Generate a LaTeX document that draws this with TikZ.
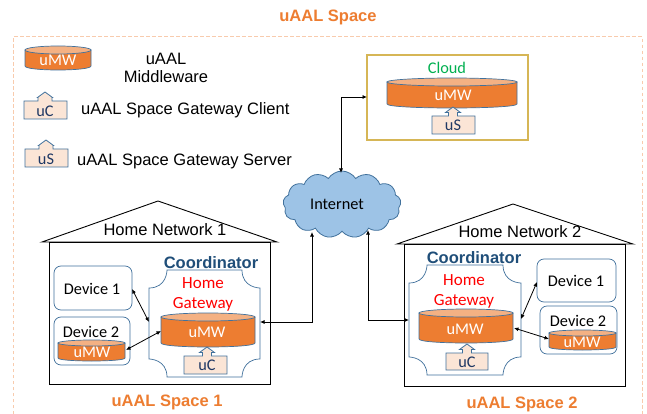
\documentclass[tikz,border=0pt]{standalone}
\usepackage{fontspec}
\setmainfont{Liberation Sans}
\newfontfamily\carlitofont{Carlito}
\usetikzlibrary{shapes.symbols,arrows.meta}
\definecolor{umwfill}{HTML}{ED7D31}
\definecolor{umwtop}{HTML}{F4B183}
\definecolor{umwline}{HTML}{41719C}
\definecolor{tagfill}{HTML}{FBE5D6}
\definecolor{spaceorange}{HTML}{ED7D31}
\definecolor{dashorange}{HTML}{F8CBAD}
\definecolor{coordblue}{HTML}{1F4E79}
\definecolor{tagtext}{HTML}{1F3864}
\definecolor{cloudblue}{HTML}{9DC3E6}
\definecolor{cloudgold}{HTML}{D6B656}
\definecolor{cloudgreen}{HTML}{00B050}
\tikzset{
  ar/.style={font=\fontsize{16.5}{18}\selectfont,inner sep=0pt,text=black},
  cb/.style={font=\carlitofont\fontsize{16.3}{18}\selectfont,inner sep=0pt,text=black},
  spacelabel/.style={font=\bfseries\fontsize{16.5}{18}\selectfont,inner sep=0pt,text=spaceorange},
  coordlabel/.style={font=\bfseries\fontsize{16.5}{18}\selectfont,inner sep=0pt,text=coordblue},
  redlabel/.style={font=\carlitofont\fontsize{17}{18}\selectfont,inner sep=0pt,text=red},
  whitelabel/.style={cb,text=white},
  taglabel/.style={cb,text=tagtext},
  devbox/.style={draw=umwline,fill=white,rounded corners=7pt,line width=0.7pt},
  plaqueline/.style={draw=umwline,fill=white,line width=0.7pt},
  conn/.style={draw=black,line width=0.8pt,{Latex[length=4.5pt,width=4pt]}-{Latex[length=4.5pt,width=4pt]}},
  wall/.style={draw=black,line width=1pt},
}
% cylinder: name x1 y1 x2 y2 ry label-x label-y
\newcommand{\umwcyl}[8]{%
  \pgfmathsetmacro{\cxx}{(#2+#4)/2}\pgfmathsetmacro{\rxx}{(#4-#2)/2}%
  \pgfmathsetmacro{\ybt}{#5-#6}\pgfmathsetmacro{\yct}{#5+#6/3}\pgfmathsetmacro{\ytp}{#3+#6}%
  \path[draw=umwline,fill=umwfill,line width=0.7pt] (#2,\ytp) -- (#2,\ybt) .. controls (#2,\yct) and (#4,\yct) .. (#4,\ybt) -- (#4,\ytp) -- cycle;
  \path[draw=umwline,fill=umwtop,line width=0.7pt] (\cxx,\ytp) ellipse [x radius=\rxx,y radius=#6];
  \node[whitelabel] (#1) at (#7,#8) {uMW};
}
% tag: name cx x1 x2 y-top y-bottom peak label-y text; \shaftw sets the neck half width
\def\shaftw{7}
\newcommand{\tagbox}[9]{%
  \pgfmathsetmacro{\nl}{#2-\shaftw}\pgfmathsetmacro{\nr}{#2+\shaftw}\pgfmathsetmacro{\hl}{#2-7.5}\pgfmathsetmacro{\hr}{#2+7.5}\pgfmathsetmacro{\sh}{#7+5.5}%
  \path[draw=umwline,fill=tagfill,line width=0.8pt] (#3,#5) -- (\nl,#5) -- (\nl,\sh) -- (\hl,\sh) -- (#2,#7) -- (\hr,\sh) -- (\nr,\sh) -- (\nr,#5) -- (#4,#5) -- (#4,#6) -- (#3,#6) -- cycle;
  \node[taglabel] (#1) at (#2,#8) {#9};
}
% plaque: x1 y1 x2 y2 corner-x corner-y
\newcommand{\plaque}[6]{%
  \pgfmathsetmacro{\xa}{#1+#5}\pgfmathsetmacro{\xb}{#3-#5}\pgfmathsetmacro{\ya}{#2+#6}\pgfmathsetmacro{\yb}{#4-#6}%
  \path[plaqueline] (\xa,#2) -- (\xb,#2) .. controls (\xb,\ya) and (#3,\ya) .. (#3,\ya)
   -- (#3,\yb) .. controls (\xb,\yb) and (\xb,#4) .. (\xb,#4)
   -- (\xa,#4) .. controls (\xa,\yb) and (#1,\yb) .. (#1,\yb)
   -- (#1,\ya) .. controls (\xa,\ya) and (\xa,#2) .. (\xa,#2) -- cycle;
}
\begin{document}
\begin{tikzpicture}[x=1pt,y=-1pt]
\useasboundingbox (0,0) rectangle (647,414);
\fill[white] (0,0) rectangle (647,414);
% outer space
\draw[dashorange,line width=1pt,dash pattern=on 3.5pt off 2.5pt] (13,414) -- (13,37) -- (642,37) -- (642,414);
\node[spacelabel] (title) at (328,17) {uAAL Space};
% legend
\umwcyl{lumw}{25}{46}{91}{70}{4}{58}{60}
\node[ar,align=center] (lmw1) at (166,59) {uAAL};
\node[ar,align=center] (lmw2) at (166,77) {Middleware};
\tagbox{luc}{45}{24}{67}{101}{119}{92}{111}{uC}
\node[ar,anchor=west] (lclient) at (81,110) {uAAL Space Gateway Client};
\tagbox{lus}{46}{25}{68}{149}{167}{140}{159}{uS}
\node[ar,anchor=west] (lserver) at (77,161) {uAAL Space Gateway Server};
% cloud box
\node[draw=cloudgold,line width=1.2pt,minimum width=161pt,minimum height=85pt,inner sep=0pt] (cloudbox) at (447.5,97.5) {};
\node[cb,text=cloudgreen] (cloudtext) at (447,68) {Cloud};
\umwcyl{cumw}{387}{78}{517}{108}{4}{453}{95}
\def\shaftw{4.5}
\tagbox{cus}{453}{432}{475}{116}{134}{107}{125}{uS}
% internet
\node[cloud,draw=umwline,fill=cloudblue,line width=0.8pt,cloud puffs=13,cloud puff arc=115,aspect=1.75,minimum width=118pt,minimum height=67pt,inner sep=0pt] (inet) at (342,204.5) {};
\node[cb] (inettext) at (337,204) {Internet};
% house 1
\draw[wall] (49,242) rectangle (270,384);
\draw[wall,line width=0.9pt] (42,242) -- (158,201) -- (277,242) -- cycle;
\node[ar] (hn1) at (165,230) {Home Network 1};
\node[coordlabel] (co1) at (211,263) {Coordinator};
\plaque{149}{270}{260}{377}{18}{18}
\node[redlabel] (home1) at (203,283) {Home};
\node[redlabel] (gate1) at (203,304) {Gateway};
\umwcyl{gw1}{161}{313}{255}{347}{4}{207}{332}
\tagbox{uc1}{207}{184}{227}{356}{374}{347}{365}{uC}
\node[devbox,minimum width=78pt,minimum height=44pt,inner sep=0pt] (dev1a) at (93,288) {};
\node[cb] (dev1at) at (92,289) {Device 1};
\node[devbox,minimum width=76pt,minimum height=48pt,inner sep=0pt] (dev1b) at (92,341) {};
\node[cb] (dev1bt) at (91,332) {Device 2};
\umwcyl{dumw1}{58}{340}{125}{361}{3}{92}{352}
% house 2
\draw[wall] (404,244) rectangle (625,386);
\draw[wall,line width=0.9pt] (397,244) -- (513,204) -- (633,244) -- cycle;
\node[ar] (hn2) at (520,232) {Home Network 2};
\node[coordlabel] (co2) at (474,258) {Coordinator};
\plaque{409}{265}{521}{375}{18}{18}
\node[redlabel] (home2) at (464,280) {Home};
\node[redlabel] (gate2) at (464,301) {Gateway};
\umwcyl{gw2}{419}{309}{513}{343}{4}{465}{329}
\tagbox{uc2}{467}{446}{488}{353}{370}{344}{362}{uC}
\node[devbox,minimum width=79pt,minimum height=43pt,inner sep=0pt] (dev2a) at (576.5,280.5) {};
\node[cb] (dev2at) at (576,281) {Device 1};
\node[devbox,minimum width=77pt,minimum height=48pt,inner sep=0pt] (dev2b) at (578.5,330) {};
\node[cb] (dev2bt) at (578,321) {Device 2};
\umwcyl{dumw2}{549}{330}{616}{350}{3}{582}{342}
\node[spacelabel] (sp1) at (167,402) {uAAL Space 1};
\node[spacelabel] (sp2) at (522,404) {uAAL Space 2};
% connector ends
\coordinate (cbw) at (367,97);
\coordinate (inettop) at (341,173);
\coordinate (inetb1) at (312,232);
\coordinate (inetb2) at (368,230);
\coordinate (pl1e) at (260,322);
\coordinate (pl2w) at (409,320);
\coordinate (pl1w) at (149,322);
\coordinate (gw1w) at (161,331);
\coordinate (d1e) at (132,289);
\coordinate (d1u) at (126,350);
\coordinate (pl2e) at (521,319);
\coordinate (gw2e) at (514,328);
\coordinate (d2w) at (537,282);
\coordinate (d2u) at (549,339);
\draw[conn] (cbw) -| (inettop);
\draw[conn] (pl1e) -| (inetb1);
\draw[conn] (pl2w) -| (inetb2);
\draw[conn] (d1e) -- (pl1w);
\draw[conn] (d1u) -- (gw1w);
\draw[conn] (d2w) -- (pl2e);
\draw[conn] (gw2e) -- (d2u);
\end{tikzpicture}
\end{document}
